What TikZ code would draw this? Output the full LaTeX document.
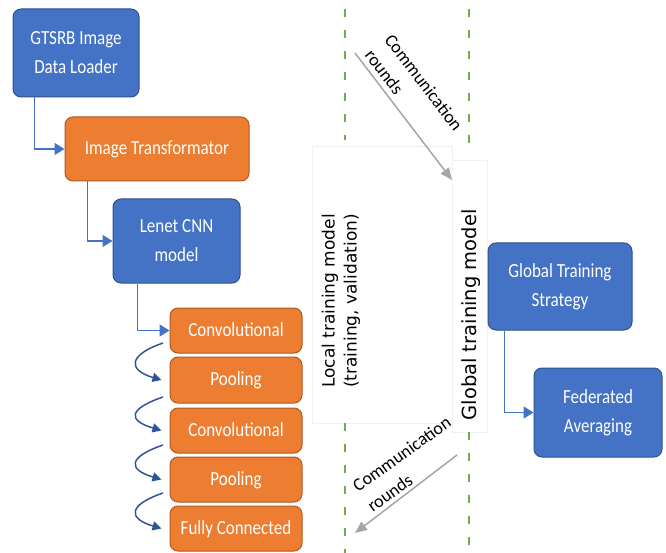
\documentclass[tikz,border=0pt]{standalone}
\usepackage{fontspec}
\usepackage{graphicx}
\setmainfont{Carlito}
\newfontfamily\labelfont{DejaVu Sans}
\usetikzlibrary{arrows.meta}

\definecolor{boxblue}{HTML}{4472C4}
\definecolor{boxblueedge}{HTML}{2F528F}
\definecolor{boxorange}{HTML}{ED7D31}
\definecolor{boxorangeedge}{HTML}{AE5A21}
\definecolor{linkblue}{HTML}{4472C4}
\definecolor{curveblue}{HTML}{2F5597}
\definecolor{dashgreen}{HTML}{70AD47}
\definecolor{roundgray}{HTML}{A5A5A5}

% box caption: Calibri-like face, slightly condensed
\newcommand\boxtext[1]{\scalebox{0.85}[1]{\begin{tabular}{@{}c@{}}#1\end{tabular}}}

\tikzset{
  basebox/.style={rectangle, rounded corners=8pt, line width=1pt, text=white,
    inner sep=0pt, font=\fontsize{20}{29}\selectfont},
  bluebox/.style={basebox, fill=boxblue, draw=boxblueedge},
  orangebox/.style={basebox, fill=boxorange, draw=boxorangeedge},
  elbow/.style={draw=linkblue, line width=1.5pt, -{Triangle[length=10pt,width=12pt]}},
  curvearrow/.style={draw=curveblue, line width=1.5pt, -{Triangle[length=9pt,width=9pt]}},
  roundarrow/.style={draw=roundgray, line width=1.5pt, -{Triangle[length=12pt,width=10pt]}},
  divider/.style={draw=dashgreen, line width=2.5pt, dash pattern=on 8pt off 13pt},
  roundtext/.style={font=\fontsize{18}{25}\selectfont, align=left, inner sep=0pt},
  framefaint/.style={draw=black!6, line width=0.6pt}
}

\begin{document}
\begin{tikzpicture}[x=1pt, y=-1pt]
  \fill[white] (0,0) rectangle (666,553);
  \useasboundingbox (0,0) rectangle (666,553);

  % faint text frames in the middle column
  \draw[framefaint] (312,146) rectangle (452,423);
  \draw[framefaint] (452,160) rectangle (487,432);

  % local pipeline
  \node[bluebox, minimum width=126pt, minimum height=88pt] (gtsrb) at (76,53)
    {\boxtext{GTSRB Image\\Data Loader}};
  \node[orangebox, minimum width=184pt, minimum height=64pt] (trans) at (157,149)
    {\boxtext{Image Transformator}};
  \node[bluebox, minimum width=127pt, minimum height=84pt] (lenet) at (176.5,241)
    {\boxtext{Lenet CNN\\model}};

  % CNN layers
  \node[orangebox, minimum width=132pt, minimum height=45pt] (conv1) at (236,330.5)
    {\boxtext{Convolutional}};
  \node[orangebox, minimum width=132pt, minimum height=46pt] (pool1) at (236,380)
    {\boxtext{Pooling}};
  \node[orangebox, minimum width=132pt, minimum height=45pt] (conv2) at (236,430.5)
    {\boxtext{Convolutional}};
  \node[orangebox, minimum width=132pt, minimum height=45pt] (pool2) at (236,479.5)
    {\boxtext{Pooling}};
  \node[orangebox, minimum width=132pt, minimum height=45pt] (fc) at (236,528.5)
    {\boxtext{Fully Connected}};

  % global side
  \node[bluebox, minimum width=144pt, minimum height=87pt] (gts) at (560,286.5)
    {\boxtext{Global Training\\Strategy}};
  \node[bluebox, minimum width=128pt, minimum height=89pt] (fed) at (598,412.5)
    {\boxtext{Federated\\Averaging}};

  % elbow connectors
  \draw[elbow] ([xshift=22pt]gtsrb.south west) |- (trans.west);
  \draw[elbow] ([xshift=23pt]trans.south west) |- (lenet.west);
  \draw[elbow] ([xshift=25pt]lenet.south west) |- (conv1.west);
  \draw[elbow] ([xshift=17pt]gts.south west) |- (fed.west);

  % curved links between layers
  \coordinate (s1) at (163,343);
  \coordinate (s2) at (163,397);
  \coordinate (s3) at (163,445);
  \coordinate (s4) at (163,493);
  \draw[curvearrow] (s1) .. controls +(-35,12) and +(-34,-10) .. ([xshift=-8pt]pool1.west);
  \draw[curvearrow] (s2) .. controls +(-35,12) and +(-34,-10) .. ([xshift=-8pt]conv2.west);
  \draw[curvearrow] (s3) .. controls +(-35,12) and +(-34,-10) .. ([xshift=-8pt]pool2.west);
  \draw[curvearrow] (s4) .. controls +(-35,12) and +(-34,-10) .. ([xshift=-8pt]fc.west);

  % dashed dividers
  \coordinate (la) at (345,9);   \coordinate (lb) at (345,140);
  \coordinate (lc) at (345,423); \coordinate (ld) at (345,553);
  \coordinate (ra) at (469,9);   \coordinate (rb) at (469,152);
  \coordinate (rc) at (469,432); \coordinate (rd) at (469,553);
  \draw[divider] (la) -- (lb);
  \draw[divider] (lc) -- (ld);
  \draw[divider] (ra) -- (rb);
  \draw[divider] (rc) -- (rd);

  % communication rounds
  \coordinate (upa) at (355,53);  \coordinate (upb) at (452,180);
  \coordinate (dna) at (457,455); \coordinate (dnb) at (355,533);
  \draw[roundarrow] (upa) -- (upb);
  \draw[roundarrow] (dna) -- (dnb);
  \node[roundtext, rotate=-52.6] (uptext) at (414,90) {Communication\\rounds};
  \node[roundtext, rotate=35.6] (dntext) at (409,464) {Communication\\rounds};

  % column labels
  \node[rotate=90, align=center, inner sep=0pt,
        font=\labelfont\fontsize{17}{22}\selectfont] (local) at (341,301)
    {Local training model\\(training, validation)};
  \node[rotate=90, inner sep=0pt,
        font=\labelfont\fontsize{19.5}{24}\selectfont] (global) at (471,315)
    {Global training model};
\end{tikzpicture}
\end{document}
